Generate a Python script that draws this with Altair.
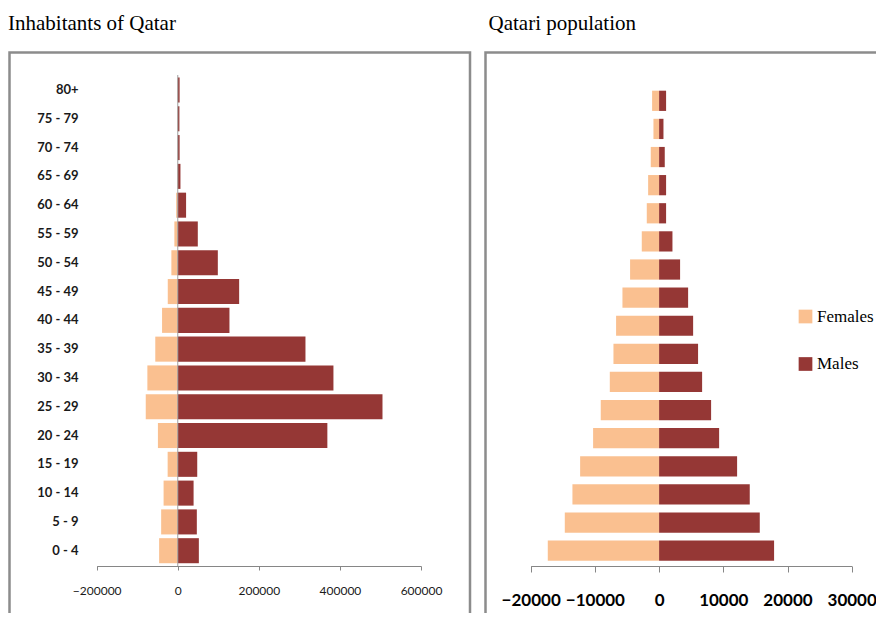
import altair as alt
import pandas as pd

# ---- data ----
ages = ['0 - 4', '5 - 9', '10 - 14', '15 - 19', '20 - 24', '25 - 29', '30 - 34',
        '35 - 39', '40 - 44', '45 - 49', '50 - 54', '55 - 59', '60 - 64',
        '65 - 69', '70 - 74', '75 - 79', '80+']
age_order_top = ages[::-1]

inh_females = [46000, 41000, 35000, 25000, 49000, 79000, 75000, 55500, 38800,
               24700, 15800, 8400, 4000, 1000, 500, 500, 500]
inh_males = [52000, 47000, 39000, 48000, 369000, 505000, 384000, 315000, 127500,
             151400, 98800, 49400, 20500, 6600, 4500, 4000, 4500]

qat_females = [17340, 14690, 13500, 12300, 10280, 9090, 7680, 7110, 6700,
               5710, 4520, 2700, 1920, 1710, 1300, 880, 1090]
qat_males = [17910, 15680, 14120, 12150, 9350, 8100, 6700, 6070, 5300,
             4520, 3270, 2080, 1090, 1090, 880, 680, 1090]

sexes = ['Females', 'Males']
colors = ['#FAC090', '#953735']

left_ticks = [-200000, 0, 200000, 400000, 600000]
right_ticks = [-20000, -10000, 0, 10000, 20000, 30000]


def long_table(f, m):
    rows = []
    for a, fv, mv in zip(ages, f, m):
        rows.append({'age': a, 'sex': 'Females', 'value': -fv})
        rows.append({'age': a, 'sex': 'Males', 'value': mv})
    return pd.DataFrame(rows)


df_left = long_table(inh_females, inh_males)
df_right = long_table(qat_females, qat_males)
one = pd.DataFrame({'k': [0]})

W, H = 868, 605
AX_Y = 558  # axis line position in chart coords

legend = alt.Legend(orient='none', legendX=789, legendY=300, title=None,
                    symbolType='square', symbolSize=188, symbolStrokeWidth=0,
                    symbolOpacity=1, labelFont='Liberation Serif', labelFontSize=17,
                    labelColor='black', rowPadding=29.5, labelOffset=3, padding=0,
                    labelLimit=200)
color = alt.Color('sex:N', scale=alt.Scale(domain=sexes, range=colors), legend=legend)

# ---- left panel ----
left_bars = alt.Chart(df_left).mark_bar().encode(
    x=alt.X('value:Q',
            scale=alt.Scale(domain=[-200000, 600000], range=[88.7, 413], nice=False),
            axis=alt.Axis(values=left_ticks, format='d', orient='bottom', offset=AX_Y - H,
                          title=None, grid=False, domainColor='#868686', tickColor='#868686',
                          tickSize=4, labelPadding=15, labelFont='Lato', labelFontSize=12,
                          labelColor='#1a1a1a', labelFontWeight='normal',
                          labelOverlap=False, labelFlush=False)),
    y=alt.Y('age:N', sort=age_order_top,
            scale=alt.Scale(range=[67.6, 557.1], paddingInner=0.13, paddingOuter=0.065),
            axis=alt.Axis(orient='left', offset=-72, domain=False, ticks=False,
                          labelPadding=2, title=None, labelFont='Lato', labelFontSize=13,
                          labelFontWeight='bold', labelColor='#1a1a1a')),
    color=color,
)
left_zero = alt.Chart(one).mark_rule(color='#a0a0a0', strokeWidth=1).encode(
    x=alt.datum(0), y=alt.value(67), y2=alt.value(AX_Y))
left_group = alt.layer(left_bars, left_zero)

# ---- right panel ----
right_bars = alt.Chart(df_right).mark_bar().encode(
    x=alt.X('value:Q',
            scale=alt.Scale(domain=[-20000, 30000], range=[522.7, 843.7], nice=False),
            axis=alt.Axis(values=right_ticks, format='d', orient='bottom', offset=AX_Y - H,
                          title=None, grid=False, domainColor='#868686', tickColor='#868686',
                          tickSize=6, labelPadding=20, labelFont='Lato', labelFontSize=17,
                          labelColor='black', labelFontWeight='bold',
                          labelOverlap=False, labelBound=False, labelFlush=False)),
    y=alt.Y('age:N', sort=age_order_top,
            scale=alt.Scale(range=[78.75, 556.75], paddingInner=0.28, paddingOuter=0.14),
            axis=None),
    color=color,
)

# ---- frames and titles ----
frame_left = alt.Chart(one).mark_rect(fill=None, stroke='#8c8c8c', strokeWidth=2.5).encode(
    x=alt.value(1.5), x2=alt.value(462), y=alt.value(44.5), y2=alt.value(660))
frame_right = alt.Chart(one).mark_rect(fill=None, stroke='#8c8c8c', strokeWidth=2.5).encode(
    x=alt.value(477.5), x2=alt.value(920), y=alt.value(44.5), y2=alt.value(660))

title_left = alt.Chart(one).mark_text(align='left', baseline='alphabetic',
                                      font='Liberation Serif', fontSize=21, color='black').encode(
    x=alt.value(0), y=alt.value(21.5), text=alt.value('Inhabitants of Qatar'))
title_right = alt.Chart(one).mark_text(align='left', baseline='alphabetic',
                                       font='Liberation Serif', fontSize=21, color='black').encode(
    x=alt.value(480.5), y=alt.value(21.5), text=alt.value('Qatari population'))

chart = alt.layer(
    frame_left, frame_right, left_group, right_bars, title_left, title_right
).resolve_scale(x='independent', y='independent').properties(
    width=W, height=H, padding=0,
    autosize=alt.AutoSizeParams(type='none'),
).configure_view(stroke=None)

chart.save('out.html', embed_options={'renderer': 'svg', 'actions': False})
